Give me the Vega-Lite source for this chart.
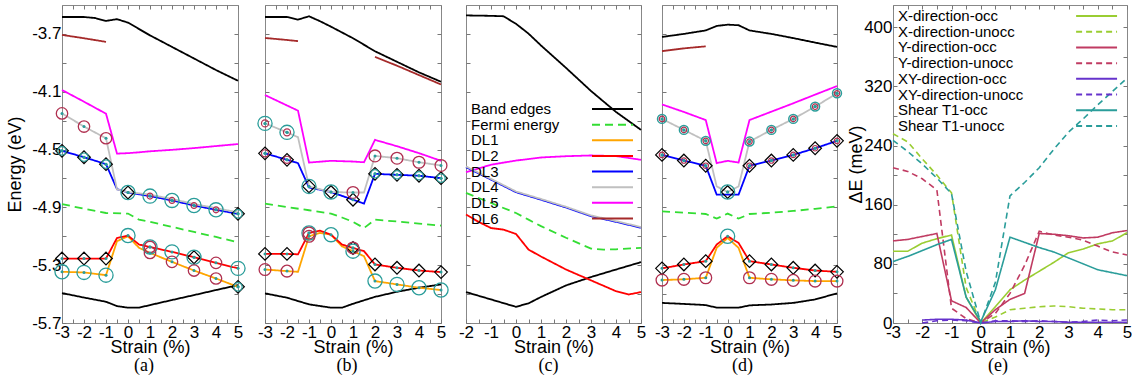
{
"$schema": "https://vega.github.io/schema/vega-lite/v6.json",
"padding": {"left": 6, "right": 0, "top": 4, "bottom": 0},
"config": {
  "view": {"stroke": "#888", "strokeWidth": 1},
  "font": "Liberation Sans",
  "axis": {"labelFont": "Liberation Sans", "labelFontSize": 17, "titleFont": "Liberation Sans", "titleFontSize": 18, "titleFontWeight": "normal", "labelColor": "#000", "titleColor": "#000", "tickColor": "#777", "tickSize": -4, "domain": false, "grid": false, "labelPadding": 5, "titlePadding": 0, "labelFlush": false, "labelOverlap": false, "minExtent": 0},
  "axisX": {"titlePadding": -2},
  "axisY": {"minExtent": 0, "titlePadding": 3},
  "title": {"font": "Liberation Serif", "fontSize": 18, "fontWeight": "normal", "color": "#000", "orient": "bottom", "frame": "group", "offset": 1}
},
"datasets": {
"LG": [{"s":"Band edges"},{"s":"Fermi energy"},{"s":"DL1"},{"s":"DL2"},{"s":"DL3"},{"s":"DL4"},{"s":"DL5"},{"s":"DL6"}],
"LE": [{"s":"X-direction-occ"},{"s":"X-direction-unocc"},{"s":"Y-direction-occ"},{"s":"Y-direction-unocc"},{"s":"XY-direction-occ"},{"s":"XY-direction-unocc"},{"s":"Shear T1-occ"},{"s":"Shear T1-unocc"}],
"L": [
{"p":"a","s":"Band edges","g":"c","x":-3,"y":-3.583},{"p":"a","s":"Band edges","g":"c","x":-2,"y":-3.583},{"p":"a","s":"Band edges","g":"c","x":-1.5,"y":-3.59},{"p":"a","s":"Band edges","g":"c","x":-1,"y":-3.61},{"p":"a","s":"Band edges","g":"c","x":-0.5,"y":-3.598},{"p":"a","s":"Band edges","g":"c","x":0,"y":-3.622},{"p":"a","s":"Band edges","g":"c","x":1,"y":-3.71},{"p":"a","s":"Band edges","g":"c","x":2,"y":-3.79},{"p":"a","s":"Band edges","g":"c","x":3,"y":-3.87},{"p":"a","s":"Band edges","g":"c","x":4,"y":-3.95},{"p":"a","s":"Band edges","g":"c","x":5,"y":-4.024},
{"p":"a","s":"Band edges","g":"v","x":-3,"y":-5.493},{"p":"a","s":"Band edges","g":"v","x":-2,"y":-5.524},{"p":"a","s":"Band edges","g":"v","x":-1,"y":-5.553},{"p":"a","s":"Band edges","g":"v","x":-0.5,"y":-5.583},{"p":"a","s":"Band edges","g":"v","x":0,"y":-5.594},{"p":"a","s":"Band edges","g":"v","x":0.5,"y":-5.594},{"p":"a","s":"Band edges","g":"v","x":1,"y":-5.576},{"p":"a","s":"Band edges","g":"v","x":2,"y":-5.541},{"p":"a","s":"Band edges","g":"v","x":3,"y":-5.507},{"p":"a","s":"Band edges","g":"v","x":4,"y":-5.472},{"p":"a","s":"Band edges","g":"v","x":5,"y":-5.438},
{"p":"a","s":"Fermi energy","g":"0","x":-3,"y":-4.877},{"p":"a","s":"Fermi energy","g":"0","x":-2,"y":-4.91},{"p":"a","s":"Fermi energy","g":"0","x":-1,"y":-4.939},{"p":"a","s":"Fermi energy","g":"0","x":0,"y":-4.943},{"p":"a","s":"Fermi energy","g":"0","x":0.5,"y":-4.985},{"p":"a","s":"Fermi energy","g":"0","x":1,"y":-5.0},{"p":"a","s":"Fermi energy","g":"0","x":2,"y":-5.035},{"p":"a","s":"Fermi energy","g":"0","x":3,"y":-5.07},{"p":"a","s":"Fermi energy","g":"0","x":4,"y":-5.105},{"p":"a","s":"Fermi energy","g":"0","x":5,"y":-5.141},
{"p":"a","s":"DL6","g":"0","x":-3,"y":-3.707},{"p":"a","s":"DL6","g":"0","x":-2,"y":-3.73},{"p":"a","s":"DL6","g":"0","x":-1,"y":-3.755},
{"p":"a","s":"DL5","g":"0","x":-3,"y":-4.088},{"p":"a","s":"DL5","g":"0","x":-2,"y":-4.169},{"p":"a","s":"DL5","g":"0","x":-1,"y":-4.252},{"p":"a","s":"DL5","g":"0","x":-0.5,"y":-4.528},{"p":"a","s":"DL5","g":"0","x":0,"y":-4.525},{"p":"a","s":"DL5","g":"0","x":0.5,"y":-4.519},{"p":"a","s":"DL5","g":"0","x":1,"y":-4.512},{"p":"a","s":"DL5","g":"0","x":2,"y":-4.502},{"p":"a","s":"DL5","g":"0","x":3,"y":-4.49},{"p":"a","s":"DL5","g":"0","x":4,"y":-4.476},{"p":"a","s":"DL5","g":"0","x":5,"y":-4.462},
{"p":"a","s":"DL3","g":"0","x":-3,"y":-4.509},{"p":"a","s":"DL3","g":"0","x":-2,"y":-4.553},{"p":"a","s":"DL3","g":"0","x":-1,"y":-4.601},{"p":"a","s":"DL3","g":"0","x":-0.5,"y":-4.774},{"p":"a","s":"DL3","g":"0","x":0,"y":-4.797},{"p":"a","s":"DL3","g":"0","x":1,"y":-4.822},{"p":"a","s":"DL3","g":"0","x":2,"y":-4.852},{"p":"a","s":"DL3","g":"0","x":3,"y":-4.887},{"p":"a","s":"DL3","g":"0","x":4,"y":-4.917},{"p":"a","s":"DL3","g":"0","x":5,"y":-4.945},
{"p":"a","s":"DL4","g":"0","x":-3,"y":-4.25},{"p":"a","s":"DL4","g":"0","x":-2,"y":-4.341},{"p":"a","s":"DL4","g":"0","x":-1,"y":-4.422},{"p":"a","s":"DL4","g":"0","x":-0.5,"y":-4.776},{"p":"a","s":"DL4","g":"0","x":0,"y":-4.794},{"p":"a","s":"DL4","g":"0","x":1,"y":-4.812},{"p":"a","s":"DL4","g":"0","x":2,"y":-4.842},{"p":"a","s":"DL4","g":"0","x":3,"y":-4.877},{"p":"a","s":"DL4","g":"0","x":4,"y":-4.905},{"p":"a","s":"DL4","g":"0","x":5,"y":-4.935},
{"p":"a","s":"DL1","g":"0","x":-3,"y":-5.346},{"p":"a","s":"DL1","g":"0","x":-2,"y":-5.35},{"p":"a","s":"DL1","g":"0","x":-1,"y":-5.369},{"p":"a","s":"DL1","g":"0","x":-0.5,"y":-5.134},{"p":"a","s":"DL1","g":"0","x":0,"y":-5.1},{"p":"a","s":"DL1","g":"0","x":0.5,"y":-5.18},{"p":"a","s":"DL1","g":"0","x":1,"y":-5.215},{"p":"a","s":"DL1","g":"0","x":2,"y":-5.277},{"p":"a","s":"DL1","g":"0","x":3,"y":-5.337},{"p":"a","s":"DL1","g":"0","x":4,"y":-5.392},{"p":"a","s":"DL1","g":"0","x":5,"y":-5.45},
{"p":"a","s":"DL2","g":"0","x":-3,"y":-5.254},{"p":"a","s":"DL2","g":"0","x":-2,"y":-5.254},{"p":"a","s":"DL2","g":"0","x":-1,"y":-5.254},{"p":"a","s":"DL2","g":"0","x":-0.5,"y":-5.112},{"p":"a","s":"DL2","g":"0","x":0,"y":-5.095},{"p":"a","s":"DL2","g":"0","x":0.5,"y":-5.157},{"p":"a","s":"DL2","g":"0","x":1,"y":-5.174},{"p":"a","s":"DL2","g":"0","x":2,"y":-5.208},{"p":"a","s":"DL2","g":"0","x":3,"y":-5.245},{"p":"a","s":"DL2","g":"0","x":4,"y":-5.284},{"p":"a","s":"DL2","g":"0","x":5,"y":-5.322},

{"p":"b","s":"Band edges","g":"c","x":-3,"y":-3.583},{"p":"b","s":"Band edges","g":"c","x":-2,"y":-3.583},{"p":"b","s":"Band edges","g":"c","x":-1.5,"y":-3.601},{"p":"b","s":"Band edges","g":"c","x":-1,"y":-3.578},{"p":"b","s":"Band edges","g":"c","x":-0.5,"y":-3.612},{"p":"b","s":"Band edges","g":"c","x":0,"y":-3.65},{"p":"b","s":"Band edges","g":"c","x":1,"y":-3.73},{"p":"b","s":"Band edges","g":"c","x":2,"y":-3.82},{"p":"b","s":"Band edges","g":"c","x":3,"y":-3.893},{"p":"b","s":"Band edges","g":"c","x":4,"y":-3.966},{"p":"b","s":"Band edges","g":"c","x":5,"y":-4.031},
{"p":"b","s":"Band edges","g":"v","x":-3,"y":-5.495},{"p":"b","s":"Band edges","g":"v","x":-2,"y":-5.525},{"p":"b","s":"Band edges","g":"v","x":-1,"y":-5.571},{"p":"b","s":"Band edges","g":"v","x":0,"y":-5.594},{"p":"b","s":"Band edges","g":"v","x":0.5,"y":-5.594},{"p":"b","s":"Band edges","g":"v","x":1,"y":-5.567},{"p":"b","s":"Band edges","g":"v","x":2,"y":-5.519},{"p":"b","s":"Band edges","g":"v","x":3,"y":-5.484},{"p":"b","s":"Band edges","g":"v","x":4,"y":-5.456},{"p":"b","s":"Band edges","g":"v","x":5,"y":-5.433},
{"p":"b","s":"Fermi energy","g":"0","x":-3,"y":-4.874},{"p":"b","s":"Fermi energy","g":"0","x":-2,"y":-4.898},{"p":"b","s":"Fermi energy","g":"0","x":-1,"y":-4.92},{"p":"b","s":"Fermi energy","g":"0","x":0,"y":-4.943},{"p":"b","s":"Fermi energy","g":"0","x":0.5,"y":-4.97},{"p":"b","s":"Fermi energy","g":"0","x":1,"y":-5.0},{"p":"b","s":"Fermi energy","g":"0","x":1.5,"y":-5.043},{"p":"b","s":"Fermi energy","g":"0","x":2,"y":-4.985},{"p":"b","s":"Fermi energy","g":"0","x":3,"y":-4.998},{"p":"b","s":"Fermi energy","g":"0","x":4,"y":-5.012},{"p":"b","s":"Fermi energy","g":"0","x":5,"y":-5.026},
{"p":"b","s":"DL6","g":"1","x":-3,"y":-3.728},{"p":"b","s":"DL6","g":"1","x":-2,"y":-3.742},{"p":"b","s":"DL6","g":"1","x":-1.5,"y":-3.75},
{"p":"b","s":"DL6","g":"2","x":2,"y":-3.859},{"p":"b","s":"DL6","g":"2","x":3,"y":-3.92},{"p":"b","s":"DL6","g":"2","x":4,"y":-3.985},{"p":"b","s":"DL6","g":"2","x":5,"y":-4.05},
{"p":"b","s":"DL5","g":"0","x":-3,"y":-4.123},{"p":"b","s":"DL5","g":"0","x":-2,"y":-4.195},{"p":"b","s":"DL5","g":"0","x":-1.5,"y":-4.231},{"p":"b","s":"DL5","g":"0","x":-1,"y":-4.59},{"p":"b","s":"DL5","g":"0","x":0,"y":-4.578},{"p":"b","s":"DL5","g":"0","x":1,"y":-4.583},{"p":"b","s":"DL5","g":"0","x":1.5,"y":-4.588},{"p":"b","s":"DL5","g":"0","x":2,"y":-4.433},{"p":"b","s":"DL5","g":"0","x":3,"y":-4.477},{"p":"b","s":"DL5","g":"0","x":4,"y":-4.525},{"p":"b","s":"DL5","g":"0","x":5,"y":-4.578},
{"p":"b","s":"DL3","g":"0","x":-3,"y":-4.526},{"p":"b","s":"DL3","g":"0","x":-2,"y":-4.571},{"p":"b","s":"DL3","g":"0","x":-1.5,"y":-4.594},{"p":"b","s":"DL3","g":"0","x":-1,"y":-4.762},{"p":"b","s":"DL3","g":"0","x":0,"y":-4.794},{"p":"b","s":"DL3","g":"0","x":1,"y":-4.847},{"p":"b","s":"DL3","g":"0","x":1.5,"y":-4.874},{"p":"b","s":"DL3","g":"0","x":2,"y":-4.668},{"p":"b","s":"DL3","g":"0","x":3,"y":-4.675},{"p":"b","s":"DL3","g":"0","x":4,"y":-4.681},{"p":"b","s":"DL3","g":"0","x":5,"y":-4.698},
{"p":"b","s":"DL4","g":"0","x":-3,"y":-4.319},{"p":"b","s":"DL4","g":"0","x":-2,"y":-4.381},{"p":"b","s":"DL4","g":"0","x":-1.5,"y":-4.415},{"p":"b","s":"DL4","g":"0","x":-1,"y":-4.755},{"p":"b","s":"DL4","g":"0","x":0,"y":-4.794},{"p":"b","s":"DL4","g":"0","x":1,"y":-4.797},{"p":"b","s":"DL4","g":"0","x":1.5,"y":-4.797},{"p":"b","s":"DL4","g":"0","x":2,"y":-4.544},{"p":"b","s":"DL4","g":"0","x":3,"y":-4.56},{"p":"b","s":"DL4","g":"0","x":4,"y":-4.588},{"p":"b","s":"DL4","g":"0","x":5,"y":-4.61},
{"p":"b","s":"DL1","g":"0","x":-3,"y":-5.33},{"p":"b","s":"DL1","g":"0","x":-2,"y":-5.341},{"p":"b","s":"DL1","g":"0","x":-1.5,"y":-5.346},{"p":"b","s":"DL1","g":"0","x":-1,"y":-5.1},{"p":"b","s":"DL1","g":"0","x":-0.5,"y":-5.077},{"p":"b","s":"DL1","g":"0","x":0,"y":-5.089},{"p":"b","s":"DL1","g":"0","x":0.5,"y":-5.17},{"p":"b","s":"DL1","g":"0","x":1,"y":-5.203},{"p":"b","s":"DL1","g":"0","x":1.5,"y":-5.238},{"p":"b","s":"DL1","g":"0","x":2,"y":-5.41},{"p":"b","s":"DL1","g":"0","x":3,"y":-5.433},{"p":"b","s":"DL1","g":"0","x":4,"y":-5.456},{"p":"b","s":"DL1","g":"0","x":5,"y":-5.472},
{"p":"b","s":"DL2","g":"0","x":-3,"y":-5.222},{"p":"b","s":"DL2","g":"0","x":-2,"y":-5.222},{"p":"b","s":"DL2","g":"0","x":-1.5,"y":-5.225},{"p":"b","s":"DL2","g":"0","x":-1,"y":-5.077},{"p":"b","s":"DL2","g":"0","x":-0.5,"y":-5.061},{"p":"b","s":"DL2","g":"0","x":0,"y":-5.089},{"p":"b","s":"DL2","g":"0","x":0.5,"y":-5.157},{"p":"b","s":"DL2","g":"0","x":1,"y":-5.181},{"p":"b","s":"DL2","g":"0","x":1.5,"y":-5.203},{"p":"b","s":"DL2","g":"0","x":2,"y":-5.295},{"p":"b","s":"DL2","g":"0","x":3,"y":-5.318},{"p":"b","s":"DL2","g":"0","x":4,"y":-5.337},{"p":"b","s":"DL2","g":"0","x":5,"y":-5.348},

{"p":"c","s":"Band edges","g":"c","x":-2,"y":-3.572},{"p":"c","s":"Band edges","g":"c","x":-1,"y":-3.575},{"p":"c","s":"Band edges","g":"c","x":-0.5,"y":-3.578},{"p":"c","s":"Band edges","g":"c","x":0,"y":-3.63},{"p":"c","s":"Band edges","g":"c","x":0.5,"y":-3.698},{"p":"c","s":"Band edges","g":"c","x":1,"y":-3.78},{"p":"c","s":"Band edges","g":"c","x":2,"y":-3.935},{"p":"c","s":"Band edges","g":"c","x":3,"y":-4.095},{"p":"c","s":"Band edges","g":"c","x":4,"y":-4.24},{"p":"c","s":"Band edges","g":"c","x":5,"y":-4.364},
{"p":"c","s":"Band edges","g":"v","x":-2,"y":-5.486},{"p":"c","s":"Band edges","g":"v","x":-1,"y":-5.537},{"p":"c","s":"Band edges","g":"v","x":0,"y":-5.588},{"p":"c","s":"Band edges","g":"v","x":0.5,"y":-5.564},{"p":"c","s":"Band edges","g":"v","x":1,"y":-5.52},{"p":"c","s":"Band edges","g":"v","x":2,"y":-5.44},{"p":"c","s":"Band edges","g":"v","x":3,"y":-5.382},{"p":"c","s":"Band edges","g":"v","x":4,"y":-5.33},{"p":"c","s":"Band edges","g":"v","x":5,"y":-5.279},
{"p":"c","s":"Fermi energy","g":"0","x":-2,"y":-4.80},{"p":"c","s":"Fermi energy","g":"0","x":-1,"y":-4.87},{"p":"c","s":"Fermi energy","g":"0","x":0,"y":-4.939},{"p":"c","s":"Fermi energy","g":"0","x":0.5,"y":-4.985},{"p":"c","s":"Fermi energy","g":"0","x":1,"y":-5.03},{"p":"c","s":"Fermi energy","g":"0","x":2,"y":-5.11},{"p":"c","s":"Fermi energy","g":"0","x":3,"y":-5.185},{"p":"c","s":"Fermi energy","g":"0","x":3.5,"y":-5.192},{"p":"c","s":"Fermi energy","g":"0","x":4,"y":-5.19},{"p":"c","s":"Fermi energy","g":"0","x":5,"y":-5.18},
{"p":"c","s":"DL5","g":"0","x":-2,"y":-4.657},{"p":"c","s":"DL5","g":"0","x":-1,"y":-4.605},{"p":"c","s":"DL5","g":"0","x":0,"y":-4.576},{"p":"c","s":"DL5","g":"0","x":0.5,"y":-4.566},{"p":"c","s":"DL5","g":"0","x":1,"y":-4.555},{"p":"c","s":"DL5","g":"0","x":2,"y":-4.546},{"p":"c","s":"DL5","g":"0","x":3,"y":-4.541},{"p":"c","s":"DL5","g":"0","x":4,"y":-4.545},{"p":"c","s":"DL5","g":"0","x":5,"y":-4.571},
{"p":"c","s":"DL3","g":"0","x":-2,"y":-4.622},{"p":"c","s":"DL3","g":"0","x":-1,"y":-4.708},{"p":"c","s":"DL3","g":"0","x":0,"y":-4.795},{"p":"c","s":"DL3","g":"0","x":1,"y":-4.847},{"p":"c","s":"DL3","g":"0","x":2,"y":-4.901},{"p":"c","s":"DL3","g":"0","x":3,"y":-4.961},{"p":"c","s":"DL3","g":"0","x":4,"y":-5.0},{"p":"c","s":"DL3","g":"0","x":5,"y":-5.041},
{"p":"c","s":"DL4","g":"0","x":-2,"y":-4.617},{"p":"c","s":"DL4","g":"0","x":-1,"y":-4.703},{"p":"c","s":"DL4","g":"0","x":0,"y":-4.79},{"p":"c","s":"DL4","g":"0","x":1,"y":-4.842},{"p":"c","s":"DL4","g":"0","x":2,"y":-4.896},{"p":"c","s":"DL4","g":"0","x":3,"y":-4.956},{"p":"c","s":"DL4","g":"0","x":4,"y":-4.995},{"p":"c","s":"DL4","g":"0","x":5,"y":-5.036},
{"p":"c","s":"DL2","g":"0","x":-2,"y":-4.95},{"p":"c","s":"DL2","g":"0","x":-1.5,"y":-5.0},{"p":"c","s":"DL2","g":"0","x":-1,"y":-5.043},{"p":"c","s":"DL2","g":"0","x":-0.5,"y":-5.054},{"p":"c","s":"DL2","g":"0","x":0,"y":-5.084},{"p":"c","s":"DL2","g":"0","x":0.5,"y":-5.192},{"p":"c","s":"DL2","g":"0","x":1,"y":-5.24},{"p":"c","s":"DL2","g":"0","x":2,"y":-5.33},{"p":"c","s":"DL2","g":"0","x":3,"y":-5.405},{"p":"c","s":"DL2","g":"0","x":4,"y":-5.48},{"p":"c","s":"DL2","g":"0","x":4.5,"y":-5.503},{"p":"c","s":"DL2","g":"0","x":5,"y":-5.486},

{"p":"d","s":"Band edges","g":"c","x":-3,"y":-3.721},{"p":"d","s":"Band edges","g":"c","x":-2,"y":-3.70},{"p":"d","s":"Band edges","g":"c","x":-1,"y":-3.676},{"p":"d","s":"Band edges","g":"c","x":-0.5,"y":-3.645},{"p":"d","s":"Band edges","g":"c","x":0,"y":-3.636},{"p":"d","s":"Band edges","g":"c","x":0.5,"y":-3.64},{"p":"d","s":"Band edges","g":"c","x":1,"y":-3.676},{"p":"d","s":"Band edges","g":"c","x":2,"y":-3.70},{"p":"d","s":"Band edges","g":"c","x":3,"y":-3.729},{"p":"d","s":"Band edges","g":"c","x":4,"y":-3.76},{"p":"d","s":"Band edges","g":"c","x":5,"y":-3.79},
{"p":"d","s":"Band edges","g":"v","x":-3,"y":-5.561},{"p":"d","s":"Band edges","g":"v","x":-2,"y":-5.568},{"p":"d","s":"Band edges","g":"v","x":-1,"y":-5.576},{"p":"d","s":"Band edges","g":"v","x":-0.5,"y":-5.594},{"p":"d","s":"Band edges","g":"v","x":0,"y":-5.594},{"p":"d","s":"Band edges","g":"v","x":0.5,"y":-5.594},{"p":"d","s":"Band edges","g":"v","x":1,"y":-5.578},{"p":"d","s":"Band edges","g":"v","x":2,"y":-5.572},{"p":"d","s":"Band edges","g":"v","x":3,"y":-5.561},{"p":"d","s":"Band edges","g":"v","x":4,"y":-5.537},{"p":"d","s":"Band edges","g":"v","x":5,"y":-5.495},
{"p":"d","s":"Fermi energy","g":"0","x":-3,"y":-4.928},{"p":"d","s":"Fermi energy","g":"0","x":-2,"y":-4.937},{"p":"d","s":"Fermi energy","g":"0","x":-1,"y":-4.946},{"p":"d","s":"Fermi energy","g":"0","x":-0.5,"y":-4.978},{"p":"d","s":"Fermi energy","g":"0","x":0,"y":-4.943},{"p":"d","s":"Fermi energy","g":"0","x":0.5,"y":-4.978},{"p":"d","s":"Fermi energy","g":"0","x":1,"y":-4.946},{"p":"d","s":"Fermi energy","g":"0","x":2,"y":-4.937},{"p":"d","s":"Fermi energy","g":"0","x":3,"y":-4.925},{"p":"d","s":"Fermi energy","g":"0","x":4,"y":-4.91},{"p":"d","s":"Fermi energy","g":"0","x":5,"y":-4.893},
{"p":"d","s":"DL6","g":"0","x":-3,"y":-3.819},{"p":"d","s":"DL6","g":"0","x":-2,"y":-3.80},{"p":"d","s":"DL6","g":"0","x":-1,"y":-3.786},
{"p":"d","s":"DL5","g":"0","x":-3,"y":-4.188},{"p":"d","s":"DL5","g":"0","x":-2,"y":-4.24},{"p":"d","s":"DL5","g":"0","x":-1,"y":-4.296},{"p":"d","s":"DL5","g":"0","x":-0.5,"y":-4.594},{"p":"d","s":"DL5","g":"0","x":0,"y":-4.578},{"p":"d","s":"DL5","g":"0","x":0.5,"y":-4.59},{"p":"d","s":"DL5","g":"0","x":1,"y":-4.296},{"p":"d","s":"DL5","g":"0","x":2,"y":-4.238},{"p":"d","s":"DL5","g":"0","x":3,"y":-4.18},{"p":"d","s":"DL5","g":"0","x":4,"y":-4.12},{"p":"d","s":"DL5","g":"0","x":5,"y":-4.061},
{"p":"d","s":"DL3","g":"0","x":-3,"y":-4.537},{"p":"d","s":"DL3","g":"0","x":-2,"y":-4.576},{"p":"d","s":"DL3","g":"0","x":-1,"y":-4.612},{"p":"d","s":"DL3","g":"0","x":-0.5,"y":-4.812},{"p":"d","s":"DL3","g":"0","x":0,"y":-4.812},{"p":"d","s":"DL3","g":"0","x":0.5,"y":-4.812},{"p":"d","s":"DL3","g":"0","x":1,"y":-4.612},{"p":"d","s":"DL3","g":"0","x":2,"y":-4.576},{"p":"d","s":"DL3","g":"0","x":3,"y":-4.537},{"p":"d","s":"DL3","g":"0","x":4,"y":-4.491},{"p":"d","s":"DL3","g":"0","x":5,"y":-4.44},
{"p":"d","s":"DL4","g":"0","x":-3,"y":-4.288},{"p":"d","s":"DL4","g":"0","x":-2,"y":-4.364},{"p":"d","s":"DL4","g":"0","x":-1,"y":-4.44},{"p":"d","s":"DL4","g":"0","x":-0.5,"y":-4.755},{"p":"d","s":"DL4","g":"0","x":0,"y":-4.794},{"p":"d","s":"DL4","g":"0","x":0.5,"y":-4.755},{"p":"d","s":"DL4","g":"0","x":1,"y":-4.445},{"p":"d","s":"DL4","g":"0","x":2,"y":-4.364},{"p":"d","s":"DL4","g":"0","x":3,"y":-4.288},{"p":"d","s":"DL4","g":"0","x":4,"y":-4.203},{"p":"d","s":"DL4","g":"0","x":5,"y":-4.111},
{"p":"d","s":"DL1","g":"0","x":-3,"y":-5.403},{"p":"d","s":"DL1","g":"0","x":-2,"y":-5.398},{"p":"d","s":"DL1","g":"0","x":-1,"y":-5.387},{"p":"d","s":"DL1","g":"0","x":-0.5,"y":-5.18},{"p":"d","s":"DL1","g":"0","x":0,"y":-5.112},{"p":"d","s":"DL1","g":"0","x":0.5,"y":-5.18},{"p":"d","s":"DL1","g":"0","x":1,"y":-5.387},{"p":"d","s":"DL1","g":"0","x":2,"y":-5.398},{"p":"d","s":"DL1","g":"0","x":3,"y":-5.405},{"p":"d","s":"DL1","g":"0","x":4,"y":-5.41},{"p":"d","s":"DL1","g":"0","x":5,"y":-5.41},
{"p":"d","s":"DL2","g":"0","x":-3,"y":-5.322},{"p":"d","s":"DL2","g":"0","x":-2,"y":-5.295},{"p":"d","s":"DL2","g":"0","x":-1,"y":-5.272},{"p":"d","s":"DL2","g":"0","x":-0.5,"y":-5.157},{"p":"d","s":"DL2","g":"0","x":0,"y":-5.1},{"p":"d","s":"DL2","g":"0","x":0.5,"y":-5.146},{"p":"d","s":"DL2","g":"0","x":1,"y":-5.272},{"p":"d","s":"DL2","g":"0","x":2,"y":-5.295},{"p":"d","s":"DL2","g":"0","x":3,"y":-5.318},{"p":"d","s":"DL2","g":"0","x":4,"y":-5.337},{"p":"d","s":"DL2","g":"0","x":5,"y":-5.346}
],
"M": [
{"p":"a","k":"R","x":-3,"y":-4.25},{"p":"a","k":"R","x":-2,"y":-4.341},{"p":"a","k":"R","x":-1,"y":-4.422},{"p":"a","k":"R","x":1,"y":-5.174},{"p":"a","k":"R","x":4,"y":-5.284},{"p":"a","k":"R","x":1,"y":-5.215},{"p":"a","k":"R","x":2,"y":-5.277},{"p":"a","k":"R","x":3,"y":-5.337},{"p":"a","k":"R","x":4,"y":-5.392},
{"p":"a","k":"r","x":1,"y":-4.822},{"p":"a","k":"r","x":2,"y":-4.852},{"p":"a","k":"r","x":3,"y":-4.887},{"p":"a","k":"r","x":4,"y":-4.917},
{"p":"a","k":"D","x":-3,"y":-4.509},{"p":"a","k":"D","x":-2,"y":-4.553},{"p":"a","k":"D","x":-1,"y":-4.601},{"p":"a","k":"D","x":0,"y":-4.797},{"p":"a","k":"D","x":5,"y":-4.945},{"p":"a","k":"D","x":-3,"y":-5.254},{"p":"a","k":"D","x":-2,"y":-5.254},{"p":"a","k":"D","x":-1,"y":-5.254},{"p":"a","k":"D","x":5,"y":-5.45},{"p":"a","k":"D","x":3,"y":-5.245},
{"p":"a","k":"T","x":0,"y":-4.797},{"p":"a","k":"T","x":1,"y":-4.822},{"p":"a","k":"T","x":2,"y":-4.852},{"p":"a","k":"T","x":3,"y":-4.887},{"p":"a","k":"T","x":4,"y":-4.917},{"p":"a","k":"T","x":0,"y":-5.095},{"p":"a","k":"T","x":1,"y":-5.174},{"p":"a","k":"T","x":2,"y":-5.208},{"p":"a","k":"T","x":3,"y":-5.245},{"p":"a","k":"T","x":5,"y":-5.322},{"p":"a","k":"T","x":-3,"y":-5.346},{"p":"a","k":"T","x":-2,"y":-5.35},{"p":"a","k":"T","x":-1,"y":-5.369},
{"p":"a","k":"t","x":-3,"y":-4.509},{"p":"a","k":"t","x":-2,"y":-4.553},{"p":"a","k":"t","x":-1,"y":-4.601},{"p":"a","k":"t","x":5,"y":-4.945},{"p":"a","k":"t","x":5,"y":-5.45},

{"p":"b","k":"T","x":-3,"y":-4.319},{"p":"b","k":"T","x":-2,"y":-4.381},{"p":"b","k":"T","x":-1,"y":-4.755},{"p":"b","k":"T","x":0,"y":-4.794},{"p":"b","k":"T","x":-1,"y":-5.077},{"p":"b","k":"T","x":0,"y":-5.089},{"p":"b","k":"T","x":1,"y":-5.203},{"p":"b","k":"T","x":2,"y":-5.41},{"p":"b","k":"T","x":3,"y":-5.433},{"p":"b","k":"T","x":4,"y":-5.456},{"p":"b","k":"T","x":5,"y":-5.472},
{"p":"b","k":"R","x":1,"y":-4.797},{"p":"b","k":"R","x":2,"y":-4.544},{"p":"b","k":"R","x":3,"y":-4.56},{"p":"b","k":"R","x":4,"y":-4.588},{"p":"b","k":"R","x":5,"y":-4.61},{"p":"b","k":"R","x":-1,"y":-5.077},{"p":"b","k":"R","x":1,"y":-5.181},{"p":"b","k":"R","x":-3,"y":-5.33},{"p":"b","k":"R","x":-2,"y":-5.341},{"p":"b","k":"R","x":-1,"y":-5.1},
{"p":"b","k":"r","x":-3,"y":-4.319},{"p":"b","k":"r","x":-2,"y":-4.381},{"p":"b","k":"r","x":-3,"y":-4.526},{"p":"b","k":"r","x":-2,"y":-4.571},
{"p":"b","k":"D","x":-3,"y":-4.526},{"p":"b","k":"D","x":-2,"y":-4.571},{"p":"b","k":"D","x":-1,"y":-4.755},{"p":"b","k":"D","x":0,"y":-4.794},{"p":"b","k":"D","x":1,"y":-4.847},{"p":"b","k":"D","x":2,"y":-4.668},{"p":"b","k":"D","x":3,"y":-4.675},{"p":"b","k":"D","x":4,"y":-4.681},{"p":"b","k":"D","x":5,"y":-4.698},{"p":"b","k":"D","x":-3,"y":-5.222},{"p":"b","k":"D","x":-2,"y":-5.222},{"p":"b","k":"D","x":1,"y":-5.181},{"p":"b","k":"D","x":2,"y":-5.295},{"p":"b","k":"D","x":3,"y":-5.318},{"p":"b","k":"D","x":4,"y":-5.337},{"p":"b","k":"D","x":5,"y":-5.348},
{"p":"b","k":"t","x":2,"y":-4.668},{"p":"b","k":"t","x":3,"y":-4.675},{"p":"b","k":"t","x":4,"y":-4.681},{"p":"b","k":"t","x":5,"y":-4.698},

{"p":"d","k":"t","x":-3,"y":-4.288},{"p":"d","k":"t","x":-2,"y":-4.364},{"p":"d","k":"t","x":-1,"y":-4.44},{"p":"d","k":"t","x":1,"y":-4.445},{"p":"d","k":"t","x":2,"y":-4.364},{"p":"d","k":"t","x":3,"y":-4.288},{"p":"d","k":"t","x":4,"y":-4.203},{"p":"d","k":"t","x":5,"y":-4.111},
{"p":"d","k":"r","x":-3,"y":-4.288},{"p":"d","k":"r","x":-2,"y":-4.364},{"p":"d","k":"r","x":-1,"y":-4.44},{"p":"d","k":"r","x":1,"y":-4.445},{"p":"d","k":"r","x":2,"y":-4.364},{"p":"d","k":"r","x":3,"y":-4.288},{"p":"d","k":"r","x":4,"y":-4.203},{"p":"d","k":"r","x":5,"y":-4.111},
{"p":"d","k":"r","x":-3,"y":-4.537},{"p":"d","k":"r","x":-2,"y":-4.576},{"p":"d","k":"r","x":-1,"y":-4.612},{"p":"d","k":"r","x":1,"y":-4.612},{"p":"d","k":"r","x":2,"y":-4.576},{"p":"d","k":"r","x":3,"y":-4.537},{"p":"d","k":"r","x":4,"y":-4.491},{"p":"d","k":"r","x":5,"y":-4.44},
{"p":"d","k":"D","x":-3,"y":-4.537},{"p":"d","k":"D","x":-2,"y":-4.576},{"p":"d","k":"D","x":-1,"y":-4.612},{"p":"d","k":"D","x":1,"y":-4.612},{"p":"d","k":"D","x":2,"y":-4.576},{"p":"d","k":"D","x":3,"y":-4.537},{"p":"d","k":"D","x":4,"y":-4.491},{"p":"d","k":"D","x":5,"y":-4.44},{"p":"d","k":"D","x":0,"y":-4.794},
{"p":"d","k":"D","x":-3,"y":-5.322},{"p":"d","k":"D","x":-2,"y":-5.295},{"p":"d","k":"D","x":-1,"y":-5.272},{"p":"d","k":"D","x":1,"y":-5.272},{"p":"d","k":"D","x":2,"y":-5.295},{"p":"d","k":"D","x":3,"y":-5.318},{"p":"d","k":"D","x":4,"y":-5.337},{"p":"d","k":"D","x":5,"y":-5.346},
{"p":"d","k":"T","x":0,"y":-4.794},{"p":"d","k":"T","x":0,"y":-5.1},
{"p":"d","k":"R","x":-3,"y":-5.403},{"p":"d","k":"R","x":-2,"y":-5.398},{"p":"d","k":"R","x":-1,"y":-5.387},{"p":"d","k":"R","x":1,"y":-5.387},{"p":"d","k":"R","x":2,"y":-5.398},{"p":"d","k":"R","x":3,"y":-5.405},{"p":"d","k":"R","x":4,"y":-5.41},{"p":"d","k":"R","x":5,"y":-5.41}
],
"E": [
{"s":"X-direction-occ","x":-3,"y":97},{"s":"X-direction-occ","x":-2.5,"y":97},{"s":"X-direction-occ","x":-2,"y":108},{"s":"X-direction-occ","x":-1.5,"y":114},{"s":"X-direction-occ","x":-1,"y":119},{"s":"X-direction-occ","x":-0.5,"y":35},{"s":"X-direction-occ","x":0,"y":0},{"s":"X-direction-occ","x":0.5,"y":22},{"s":"X-direction-occ","x":1,"y":45},{"s":"X-direction-occ","x":1.5,"y":58},{"s":"X-direction-occ","x":2,"y":70},{"s":"X-direction-occ","x":2.5,"y":82},{"s":"X-direction-occ","x":3,"y":95},{"s":"X-direction-occ","x":3.5,"y":100},{"s":"X-direction-occ","x":4,"y":107},{"s":"X-direction-occ","x":4.5,"y":111},{"s":"X-direction-occ","x":5,"y":122},
{"s":"X-direction-unocc","x":-3,"y":256},{"s":"X-direction-unocc","x":-2.5,"y":245},{"s":"X-direction-unocc","x":-2,"y":222},{"s":"X-direction-unocc","x":-1.5,"y":200},{"s":"X-direction-unocc","x":-1,"y":176},{"s":"X-direction-unocc","x":-0.5,"y":48},{"s":"X-direction-unocc","x":0,"y":0},{"s":"X-direction-unocc","x":0.5,"y":8},{"s":"X-direction-unocc","x":1,"y":18},{"s":"X-direction-unocc","x":1.5,"y":20},{"s":"X-direction-unocc","x":2,"y":22},{"s":"X-direction-unocc","x":2.5,"y":23},{"s":"X-direction-unocc","x":3,"y":22},{"s":"X-direction-unocc","x":3.5,"y":20},{"s":"X-direction-unocc","x":4,"y":19},{"s":"X-direction-unocc","x":4.5,"y":18},{"s":"X-direction-unocc","x":5,"y":18},
{"s":"Y-direction-occ","x":-3,"y":111},{"s":"Y-direction-occ","x":-2.5,"y":113},{"s":"Y-direction-occ","x":-2,"y":117},{"s":"Y-direction-occ","x":-1.5,"y":121},{"s":"Y-direction-occ","x":-1,"y":30},{"s":"Y-direction-occ","x":-0.5,"y":21},{"s":"Y-direction-occ","x":0,"y":0},{"s":"Y-direction-occ","x":0.5,"y":18},{"s":"Y-direction-occ","x":1,"y":32},{"s":"Y-direction-occ","x":1.5,"y":40},{"s":"Y-direction-occ","x":2,"y":121},{"s":"Y-direction-occ","x":2.5,"y":120},{"s":"Y-direction-occ","x":3,"y":118},{"s":"Y-direction-occ","x":3.5,"y":115},{"s":"Y-direction-occ","x":4,"y":116},{"s":"Y-direction-occ","x":4.5,"y":122},{"s":"Y-direction-occ","x":5,"y":125},
{"s":"Y-direction-unocc","x":-3,"y":210},{"s":"Y-direction-unocc","x":-2.5,"y":205},{"s":"Y-direction-unocc","x":-2,"y":195},{"s":"Y-direction-unocc","x":-1.5,"y":180},{"s":"Y-direction-unocc","x":-1,"y":20},{"s":"Y-direction-unocc","x":-0.5,"y":6},{"s":"Y-direction-unocc","x":0,"y":0},{"s":"Y-direction-unocc","x":0.5,"y":13},{"s":"Y-direction-unocc","x":1,"y":40},{"s":"Y-direction-unocc","x":1.5,"y":78},{"s":"Y-direction-unocc","x":2,"y":124},{"s":"Y-direction-unocc","x":2.5,"y":119},{"s":"Y-direction-unocc","x":3,"y":116},{"s":"Y-direction-unocc","x":3.5,"y":112},{"s":"Y-direction-unocc","x":4,"y":104},{"s":"Y-direction-unocc","x":4.5,"y":96},{"s":"Y-direction-unocc","x":5,"y":92},
{"s":"XY-direction-occ","x":-2,"y":4},{"s":"XY-direction-occ","x":-1.5,"y":5},{"s":"XY-direction-occ","x":-1,"y":5},{"s":"XY-direction-occ","x":-0.5,"y":4},{"s":"XY-direction-occ","x":0,"y":0},{"s":"XY-direction-occ","x":0.5,"y":2},{"s":"XY-direction-occ","x":1,"y":2},{"s":"XY-direction-occ","x":1.5,"y":3},{"s":"XY-direction-occ","x":2,"y":2},{"s":"XY-direction-occ","x":2.5,"y":2},{"s":"XY-direction-occ","x":3,"y":1},{"s":"XY-direction-occ","x":3.5,"y":1},{"s":"XY-direction-occ","x":4,"y":1},{"s":"XY-direction-occ","x":4.5,"y":1},{"s":"XY-direction-occ","x":5,"y":1},
{"s":"XY-direction-unocc","x":-2,"y":0},{"s":"XY-direction-unocc","x":-1.5,"y":3},{"s":"XY-direction-unocc","x":-1,"y":4},{"s":"XY-direction-unocc","x":-0.5,"y":3},{"s":"XY-direction-unocc","x":0,"y":0},{"s":"XY-direction-unocc","x":0.5,"y":3},{"s":"XY-direction-unocc","x":1,"y":3},{"s":"XY-direction-unocc","x":1.5,"y":2},{"s":"XY-direction-unocc","x":2,"y":3},{"s":"XY-direction-unocc","x":2.5,"y":2},{"s":"XY-direction-unocc","x":3,"y":1},{"s":"XY-direction-unocc","x":3.5,"y":2},{"s":"XY-direction-unocc","x":4,"y":4},{"s":"XY-direction-unocc","x":4.5,"y":3},{"s":"XY-direction-unocc","x":5,"y":4},
{"s":"Shear T1-occ","x":-3,"y":83},{"s":"Shear T1-occ","x":-2.5,"y":90},{"s":"Shear T1-occ","x":-2,"y":98},{"s":"Shear T1-occ","x":-1.5,"y":106},{"s":"Shear T1-occ","x":-1,"y":113},{"s":"Shear T1-occ","x":-0.5,"y":35},{"s":"Shear T1-occ","x":0,"y":2},{"s":"Shear T1-occ","x":0.5,"y":45},{"s":"Shear T1-occ","x":1,"y":116},{"s":"Shear T1-occ","x":1.5,"y":109},{"s":"Shear T1-occ","x":2,"y":102},{"s":"Shear T1-occ","x":2.5,"y":96},{"s":"Shear T1-occ","x":3,"y":88},{"s":"Shear T1-occ","x":3.5,"y":80},{"s":"Shear T1-occ","x":4,"y":72},{"s":"Shear T1-occ","x":4.5,"y":68},{"s":"Shear T1-occ","x":5,"y":64},
{"s":"Shear T1-unocc","x":-3,"y":247},{"s":"Shear T1-unocc","x":-2.5,"y":232},{"s":"Shear T1-unocc","x":-2,"y":215},{"s":"Shear T1-unocc","x":-1.5,"y":196},{"s":"Shear T1-unocc","x":-1,"y":175},{"s":"Shear T1-unocc","x":-0.5,"y":70},{"s":"Shear T1-unocc","x":0,"y":0},{"s":"Shear T1-unocc","x":0.5,"y":55},{"s":"Shear T1-unocc","x":1,"y":172},{"s":"Shear T1-unocc","x":1.5,"y":190},{"s":"Shear T1-unocc","x":2,"y":210},{"s":"Shear T1-unocc","x":2.5,"y":235},{"s":"Shear T1-unocc","x":3,"y":258},{"s":"Shear T1-unocc","x":3.5,"y":276},{"s":"Shear T1-unocc","x":4,"y":295},{"s":"Shear T1-unocc","x":4.5,"y":313},{"s":"Shear T1-unocc","x":5,"y":331}
]
},
"hconcat": [
{
"hconcat": [
{
"width": 176, "height": 318,
"title": {"text": "(a)", "dx": -6},
"layer": [
{"data": {"name": "L"}, "transform": [{"filter": "datum.p == 'a'"}], "mark": {"type": "line", "strokeWidth": 1.8},
 "encoding": {
  "x": {"field": "x", "type": "quantitative", "scale": {"domain": [-3, 5], "nice": false}, "axis": {"orient": "bottom", "values": [-3,-2.5,-2,-1.5,-1,-0.5,0,0.5,1,1.5,2,2.5,3,3.5,4,4.5,5], "labelExpr": "datum.value % 1 == 0 ? '' + datum.value : ''", "title": "Strain (%)"}},
  "y": {"field": "y", "type": "quantitative", "scale": {"domain": [-5.7, -3.5], "nice": false, "zero": false}, "axis": {"orient": "left", "values": [-5.7,-5.5,-5.3,-5.1,-4.9,-4.7,-4.5,-4.3,-4.1,-3.9,-3.7], "labelExpr": "indexof([-5.7,-5.3,-4.9,-4.5,-4.1,-3.7], datum.value) >= 0 ? '' + datum.value : ''", "title": "Energy (eV)", "titlePadding": 7}},
  "color": {"field": "s", "type": "nominal", "scale": {"domain": ["Band edges","Fermi energy","DL1","DL2","DL3","DL4","DL5","DL6"], "range": ["#000000","#33dd33","#ffa500","#ff0000","#0000ff","#c0c0c0","#ff00ff","#a52a2a"]}, "legend": null},
  "strokeDash": {"field": "s", "type": "nominal", "scale": {"domain": ["Band edges","Fermi energy","DL1","DL2","DL3","DL4","DL5","DL6"], "range": [[1,0],[8,5],[1,0],[1,0],[1,0],[1,0],[1,0],[1,0]]}, "legend": null},
  "detail": {"field": "g"}
 }},
{"data": {"name": "M"}, "transform": [{"filter": "datum.p == 'a'"}], "mark": {"type": "point", "opacity": 0},
 "encoding": {"x": {"field": "x", "type": "quantitative", "axis": {"orient": "top", "values": [-3,-2.5,-2,-1.5,-1,-0.5,0,0.5,1,1.5,2,2.5,3,3.5,4,4.5,5], "labels": false, "title": null, "minExtent": 0}}, "y": {"field": "y", "type": "quantitative", "axis": {"orient": "right", "values": [-5.7,-5.5,-5.3,-5.1,-4.9,-4.7,-4.5,-4.3,-4.1,-3.9,-3.7], "labels": false, "title": null, "minExtent": 0}}}},
{"data": {"name": "M"}, "transform": [{"filter": "datum.p == 'a' && datum.k == 'D'"}], "mark": {"type": "point", "shape": "diamond", "filled": false, "stroke": "#000", "strokeWidth": 1.2, "size": 160, "opacity": 1}, "encoding": {"x": {"field": "x", "type": "quantitative", "axis": null}, "y": {"field": "y", "type": "quantitative", "axis": null}}},
{"data": {"name": "M"}, "transform": [{"filter": "datum.p == 'a' && datum.k == 'T'"}], "mark": {"type": "point", "shape": "circle", "filled": false, "stroke": "#2a9d9a", "strokeWidth": 1.3, "size": 200, "opacity": 1}, "encoding": {"x": {"field": "x", "type": "quantitative", "axis": null}, "y": {"field": "y", "type": "quantitative", "axis": null}}},
{"data": {"name": "M"}, "transform": [{"filter": "datum.p == 'a' && datum.k == 't'"}], "mark": {"type": "point", "shape": "circle", "filled": false, "stroke": "#2a9d9a", "strokeWidth": 1.2, "size": 70, "opacity": 1}, "encoding": {"x": {"field": "x", "type": "quantitative", "axis": null}, "y": {"field": "y", "type": "quantitative", "axis": null}}},
{"data": {"name": "M"}, "transform": [{"filter": "datum.p == 'a' && datum.k == 'R'"}], "mark": {"type": "point", "shape": "circle", "filled": false, "stroke": "#b03050", "strokeWidth": 1.3, "size": 130, "opacity": 1}, "encoding": {"x": {"field": "x", "type": "quantitative", "axis": null}, "y": {"field": "y", "type": "quantitative", "axis": null}}},
{"data": {"name": "M"}, "transform": [{"filter": "datum.p == 'a' && datum.k == 'r'"}], "mark": {"type": "point", "shape": "circle", "filled": false, "stroke": "#b03050", "strokeWidth": 1.2, "size": 35, "opacity": 1}, "encoding": {"x": {"field": "x", "type": "quantitative", "axis": null}, "y": {"field": "y", "type": "quantitative", "axis": null}}},
{"data": {"name": "M"}, "transform": [{"filter": "datum.p == 'a'"}], "mark": {"type": "point", "shape": "circle", "filled": true, "color": "#2a9d9a", "size": 9, "opacity": 1}, "encoding": {"x": {"field": "x", "type": "quantitative", "axis": null}, "y": {"field": "y", "type": "quantitative", "axis": null}}}
],
"resolve": {"axis": {"x": "independent", "y": "independent"}}
},
{
"width": 176, "height": 318,
"title": {"text": "(b)", "dx": -6},
"layer": [
{"data": {"name": "L"}, "transform": [{"filter": "datum.p == 'b'"}], "mark": {"type": "line", "strokeWidth": 1.8},
 "encoding": {
  "x": {"field": "x", "type": "quantitative", "scale": {"domain": [-3, 5], "nice": false}, "axis": {"orient": "bottom", "values": [-3,-2.5,-2,-1.5,-1,-0.5,0,0.5,1,1.5,2,2.5,3,3.5,4,4.5,5], "labelExpr": "datum.value % 1 == 0 ? '' + datum.value : ''", "title": "Strain (%)"}},
  "y": {"field": "y", "type": "quantitative", "scale": {"domain": [-5.7, -3.5], "nice": false, "zero": false}, "axis": {"orient": "left", "values": [-5.7,-5.5,-5.3,-5.1,-4.9,-4.7,-4.5,-4.3,-4.1,-3.9,-3.7], "labels": false, "title": null, "minExtent": 0}},
  "color": {"field": "s", "type": "nominal", "scale": {"domain": ["Band edges","Fermi energy","DL1","DL2","DL3","DL4","DL5","DL6"], "range": ["#000000","#33dd33","#ffa500","#ff0000","#0000ff","#c0c0c0","#ff00ff","#a52a2a"]}, "legend": null},
  "strokeDash": {"field": "s", "type": "nominal", "scale": {"domain": ["Band edges","Fermi energy","DL1","DL2","DL3","DL4","DL5","DL6"], "range": [[1,0],[8,5],[1,0],[1,0],[1,0],[1,0],[1,0],[1,0]]}, "legend": null},
  "detail": {"field": "g"}
 }},
{"data": {"name": "M"}, "transform": [{"filter": "datum.p == 'b'"}], "mark": {"type": "point", "opacity": 0},
 "encoding": {"x": {"field": "x", "type": "quantitative", "axis": {"orient": "top", "values": [-3,-2.5,-2,-1.5,-1,-0.5,0,0.5,1,1.5,2,2.5,3,3.5,4,4.5,5], "labels": false, "title": null, "minExtent": 0}}, "y": {"field": "y", "type": "quantitative", "axis": {"orient": "right", "values": [-5.7,-5.5,-5.3,-5.1,-4.9,-4.7,-4.5,-4.3,-4.1,-3.9,-3.7], "labels": false, "title": null, "minExtent": 0}}}},
{"data": {"name": "M"}, "transform": [{"filter": "datum.p == 'b' && datum.k == 'D'"}], "mark": {"type": "point", "shape": "diamond", "filled": false, "stroke": "#000", "strokeWidth": 1.2, "size": 160, "opacity": 1}, "encoding": {"x": {"field": "x", "type": "quantitative", "axis": null}, "y": {"field": "y", "type": "quantitative", "axis": null}}},
{"data": {"name": "M"}, "transform": [{"filter": "datum.p == 'b' && datum.k == 'T'"}], "mark": {"type": "point", "shape": "circle", "filled": false, "stroke": "#2a9d9a", "strokeWidth": 1.3, "size": 200, "opacity": 1}, "encoding": {"x": {"field": "x", "type": "quantitative", "axis": null}, "y": {"field": "y", "type": "quantitative", "axis": null}}},
{"data": {"name": "M"}, "transform": [{"filter": "datum.p == 'b' && datum.k == 't'"}], "mark": {"type": "point", "shape": "circle", "filled": false, "stroke": "#2a9d9a", "strokeWidth": 1.2, "size": 70, "opacity": 1}, "encoding": {"x": {"field": "x", "type": "quantitative", "axis": null}, "y": {"field": "y", "type": "quantitative", "axis": null}}},
{"data": {"name": "M"}, "transform": [{"filter": "datum.p == 'b' && datum.k == 'R'"}], "mark": {"type": "point", "shape": "circle", "filled": false, "stroke": "#b03050", "strokeWidth": 1.3, "size": 140, "opacity": 1}, "encoding": {"x": {"field": "x", "type": "quantitative", "axis": null}, "y": {"field": "y", "type": "quantitative", "axis": null}}},
{"data": {"name": "M"}, "transform": [{"filter": "datum.p == 'b' && datum.k == 'r'"}], "mark": {"type": "point", "shape": "circle", "filled": false, "stroke": "#b03050", "strokeWidth": 1.2, "size": 50, "opacity": 1}, "encoding": {"x": {"field": "x", "type": "quantitative", "axis": null}, "y": {"field": "y", "type": "quantitative", "axis": null}}},
{"data": {"name": "M"}, "transform": [{"filter": "datum.p == 'b'"}], "mark": {"type": "point", "shape": "circle", "filled": true, "color": "#2a9d9a", "size": 9, "opacity": 1}, "encoding": {"x": {"field": "x", "type": "quantitative", "axis": null}, "y": {"field": "y", "type": "quantitative", "axis": null}}}
],
"resolve": {"axis": {"x": "independent", "y": "independent"}}
},
{
"width": 175, "height": 318,
"title": {"text": "(c)", "dx": -5},
"layer": [
{"data": {"name": "L"}, "transform": [{"filter": "datum.p == 'c'"}], "mark": {"type": "line", "strokeWidth": 1.8},
 "encoding": {
  "x": {"field": "x", "type": "quantitative", "scale": {"domain": [-2, 5], "nice": false}, "axis": {"orient": "bottom", "values": [-2,-1.5,-1,-0.5,0,0.5,1,1.5,2,2.5,3,3.5,4,4.5,5], "labelExpr": "datum.value % 1 == 0 ? '' + datum.value : ''", "title": "Strain (%)"}},
  "y": {"field": "y", "type": "quantitative", "scale": {"domain": [-5.7, -3.5], "nice": false, "zero": false}, "axis": {"orient": "left", "values": [-5.7,-5.5,-5.3,-5.1,-4.9,-4.7,-4.5,-4.3,-4.1,-3.9,-3.7], "labels": false, "title": null, "minExtent": 0}},
  "color": {"field": "s", "type": "nominal", "scale": {"domain": ["Band edges","Fermi energy","DL1","DL2","DL3","DL4","DL5","DL6"], "range": ["#000000","#33dd33","#ffa500","#ff0000","#0000ff","#c0c0c0","#ff00ff","#a52a2a"]}, "legend": null},
  "strokeDash": {"field": "s", "type": "nominal", "scale": {"domain": ["Band edges","Fermi energy","DL1","DL2","DL3","DL4","DL5","DL6"], "range": [[1,0],[8,5],[1,0],[1,0],[1,0],[1,0],[1,0],[1,0]]}, "legend": null},
  "detail": {"field": "g"}
 }},
{"data": {"name": "L"}, "transform": [{"filter": "datum.p == 'c'"}], "mark": {"type": "point", "opacity": 0},
 "encoding": {"x": {"field": "x", "type": "quantitative", "axis": {"orient": "top", "values": [-2,-1.5,-1,-0.5,0,0.5,1,1.5,2,2.5,3,3.5,4,4.5,5], "labels": false, "title": null, "minExtent": 0}}, "y": {"field": "y", "type": "quantitative", "scale": {"domain": [-5.7, -3.5], "nice": false, "zero": false}, "axis": {"orient": "right", "values": [-5.7,-5.5,-5.3,-5.1,-4.9,-4.7,-4.5,-4.3,-4.1,-3.9,-3.7], "labels": false, "title": null, "minExtent": 0}}}},
{"data": {"name": "LG"}, "mark": {"type": "text", "align": "left", "baseline": "middle", "fontSize": 15, "font": "Liberation Sans", "color": "#000"},
 "encoding": {"x": {"datum": -1.8, "type": "quantitative", "axis": null}, "y": {"field": "s", "type": "nominal", "sort": null, "scale": {"type": "point", "domain": ["Band edges","Fermi energy","DL1","DL2","DL3","DL4","DL5","DL6"], "range": [104, 213.5], "padding": 0}, "axis": null}, "text": {"field": "s"}}},
{"data": {"name": "LG"}, "mark": {"type": "rule", "strokeWidth": 2},
 "encoding": {"x": {"datum": 3.04, "type": "quantitative", "axis": null}, "x2": {"datum": 4.68}, "y": {"field": "s", "type": "nominal", "sort": null, "scale": {"type": "point", "domain": ["Band edges","Fermi energy","DL1","DL2","DL3","DL4","DL5","DL6"], "range": [104, 213.5], "padding": 0}, "axis": null}, "color": {"field": "s", "type": "nominal", "legend": null}, "strokeDash": {"field": "s", "type": "nominal", "legend": null}}}
],
"resolve": {"axis": {"x": "independent", "y": "independent"}, "scale": {"y": "independent"}}
},
{
"width": 175, "height": 318,
"title": {"text": "(d)", "dx": -7},
"layer": [
{"data": {"name": "L"}, "transform": [{"filter": "datum.p == 'd'"}], "mark": {"type": "line", "strokeWidth": 1.8},
 "encoding": {
  "x": {"field": "x", "type": "quantitative", "scale": {"domain": [-3, 5], "nice": false}, "axis": {"orient": "bottom", "values": [-3,-2.5,-2,-1.5,-1,-0.5,0,0.5,1,1.5,2,2.5,3,3.5,4,4.5,5], "labelExpr": "datum.value % 1 == 0 ? '' + datum.value : ''", "title": "Strain (%)"}},
  "y": {"field": "y", "type": "quantitative", "scale": {"domain": [-5.7, -3.5], "nice": false, "zero": false}, "axis": {"orient": "left", "values": [-5.7,-5.5,-5.3,-5.1,-4.9,-4.7,-4.5,-4.3,-4.1,-3.9,-3.7], "labels": false, "title": null, "minExtent": 0}},
  "color": {"field": "s", "type": "nominal", "scale": {"domain": ["Band edges","Fermi energy","DL1","DL2","DL3","DL4","DL5","DL6"], "range": ["#000000","#33dd33","#ffa500","#ff0000","#0000ff","#c0c0c0","#ff00ff","#a52a2a"]}, "legend": null},
  "strokeDash": {"field": "s", "type": "nominal", "scale": {"domain": ["Band edges","Fermi energy","DL1","DL2","DL3","DL4","DL5","DL6"], "range": [[1,0],[8,5],[1,0],[1,0],[1,0],[1,0],[1,0],[1,0]]}, "legend": null},
  "detail": {"field": "g"}
 }},
{"data": {"name": "M"}, "transform": [{"filter": "datum.p == 'd'"}], "mark": {"type": "point", "opacity": 0},
 "encoding": {"x": {"field": "x", "type": "quantitative", "axis": {"orient": "top", "values": [-3,-2.5,-2,-1.5,-1,-0.5,0,0.5,1,1.5,2,2.5,3,3.5,4,4.5,5], "labels": false, "title": null, "minExtent": 0}}, "y": {"field": "y", "type": "quantitative", "axis": {"orient": "right", "values": [-5.7,-5.5,-5.3,-5.1,-4.9,-4.7,-4.5,-4.3,-4.1,-3.9,-3.7], "labels": false, "title": null, "minExtent": 0}}}},
{"data": {"name": "M"}, "transform": [{"filter": "datum.p == 'd' && datum.k == 'D'"}], "mark": {"type": "point", "shape": "diamond", "filled": false, "stroke": "#000", "strokeWidth": 1.2, "size": 160, "opacity": 1}, "encoding": {"x": {"field": "x", "type": "quantitative", "axis": null}, "y": {"field": "y", "type": "quantitative", "axis": null}}},
{"data": {"name": "M"}, "transform": [{"filter": "datum.p == 'd' && datum.k == 'T'"}], "mark": {"type": "point", "shape": "circle", "filled": false, "stroke": "#2a9d9a", "strokeWidth": 1.3, "size": 200, "opacity": 1}, "encoding": {"x": {"field": "x", "type": "quantitative", "axis": null}, "y": {"field": "y", "type": "quantitative", "axis": null}}},
{"data": {"name": "M"}, "transform": [{"filter": "datum.p == 'd' && datum.k == 't'"}], "mark": {"type": "point", "shape": "circle", "filled": false, "stroke": "#2a9d9a", "strokeWidth": 1.5, "size": 80, "opacity": 1}, "encoding": {"x": {"field": "x", "type": "quantitative", "axis": null}, "y": {"field": "y", "type": "quantitative", "axis": null}}},
{"data": {"name": "M"}, "transform": [{"filter": "datum.p == 'd' && datum.k == 'R'"}], "mark": {"type": "point", "shape": "circle", "filled": false, "stroke": "#b03050", "strokeWidth": 1.3, "size": 140, "opacity": 1}, "encoding": {"x": {"field": "x", "type": "quantitative", "axis": null}, "y": {"field": "y", "type": "quantitative", "axis": null}}},
{"data": {"name": "M"}, "transform": [{"filter": "datum.p == 'd' && datum.k == 'r'"}], "mark": {"type": "point", "shape": "circle", "filled": false, "stroke": "#b03050", "strokeWidth": 1.2, "size": 30, "opacity": 1}, "encoding": {"x": {"field": "x", "type": "quantitative", "axis": null}, "y": {"field": "y", "type": "quantitative", "axis": null}}},
{"data": {"name": "M"}, "transform": [{"filter": "datum.p == 'd'"}], "mark": {"type": "point", "shape": "circle", "filled": true, "color": "#2a9d9a", "size": 9, "opacity": 1}, "encoding": {"x": {"field": "x", "type": "quantitative", "axis": null}, "y": {"field": "y", "type": "quantitative", "axis": null}}}
],
"resolve": {"axis": {"x": "independent", "y": "independent"}}
}
],
"spacing": 5,
"resolve": {"scale": {"color": "independent", "strokeDash": "independent"}, "legend": {"color": "independent", "strokeDash": "independent"}}
},
{
"width": 234, "height": 318,
"title": {"text": "(e)", "dx": -12},
"layer": [
{"data": {"name": "E"}, "mark": {"type": "line", "strokeWidth": 1.6},
 "encoding": {
  "x": {"field": "x", "type": "quantitative", "scale": {"domain": [-3, 5], "nice": false}, "axis": {"orient": "bottom", "values": [-3,-2.5,-2,-1.5,-1,-0.5,0,0.5,1,1.5,2,2.5,3,3.5,4,4.5,5], "labelExpr": "datum.value % 1 == 0 ? '' + datum.value : ''", "title": "Strain (%)"}},
  "y": {"field": "y", "type": "quantitative", "scale": {"domain": [0, 430], "nice": false}, "axis": {"orient": "left", "values": [0,40,80,120,160,200,240,280,320,360,400], "labelExpr": "datum.value % 80 == 0 ? '' + datum.value : ''", "title": "ΔE (meV)", "titlePadding": -2}},
  "color": {"field": "s", "type": "nominal", "scale": {"domain": ["X-direction-occ","X-direction-unocc","Y-direction-occ","Y-direction-unocc","XY-direction-occ","XY-direction-unocc","Shear T1-occ","Shear T1-unocc"], "range": ["#9acd32","#9acd32","#c03b62","#c03b62","#6633cc","#6633cc","#2a9d9a","#2a9d9a"]}, "legend": null},
  "strokeDash": {"field": "s", "type": "nominal", "scale": {"domain": ["X-direction-occ","X-direction-unocc","Y-direction-occ","Y-direction-unocc","XY-direction-occ","XY-direction-unocc","Shear T1-occ","Shear T1-unocc"], "range": [[1,0],[6,4],[1,0],[6,4],[1,0],[6,4],[1,0],[6,4]]}, "legend": null}
 }},
{"data": {"name": "E"}, "mark": {"type": "point", "opacity": 0},
 "encoding": {"x": {"field": "x", "type": "quantitative", "axis": {"orient": "top", "values": [-3,-2.5,-2,-1.5,-1,-0.5,0,0.5,1,1.5,2,2.5,3,3.5,4,4.5,5], "labels": false, "title": null, "minExtent": 0}}, "y": {"field": "y", "type": "quantitative", "scale": {"domain": [0, 430], "nice": false}, "axis": {"orient": "right", "values": [0,40,80,120,160,200,240,280,320,360,400], "labels": false, "title": null, "minExtent": 0}}}},
{"data": {"name": "LE"}, "mark": {"type": "text", "align": "left", "baseline": "middle", "fontSize": 15, "font": "Liberation Sans", "color": "#000"},
 "encoding": {"x": {"datum": -2.83, "type": "quantitative", "axis": null}, "y": {"field": "s", "type": "nominal", "sort": null, "scale": {"type": "point", "domain": ["X-direction-occ","X-direction-unocc","Y-direction-occ","Y-direction-unocc","XY-direction-occ","XY-direction-unocc","Shear T1-occ","Shear T1-unocc"], "range": [11, 121], "padding": 0}, "axis": null}, "text": {"field": "s"}}},
{"data": {"name": "LE"}, "mark": {"type": "rule", "strokeWidth": 2},
 "encoding": {"x": {"datum": 3.26, "type": "quantitative", "axis": null}, "x2": {"datum": 4.66}, "y": {"field": "s", "type": "nominal", "sort": null, "scale": {"type": "point", "domain": ["X-direction-occ","X-direction-unocc","Y-direction-occ","Y-direction-unocc","XY-direction-occ","XY-direction-unocc","Shear T1-occ","Shear T1-unocc"], "range": [11, 121], "padding": 0}, "axis": null}, "color": {"field": "s", "type": "nominal", "legend": null}, "strokeDash": {"field": "s", "type": "nominal", "legend": null}}}
],
"resolve": {"axis": {"x": "independent", "y": "independent"}, "scale": {"y": "independent"}}
}
],
"spacing": 0,
"resolve": {"scale": {"color": "independent", "strokeDash": "independent"}, "legend": {"color": "independent", "strokeDash": "independent"}}
}
